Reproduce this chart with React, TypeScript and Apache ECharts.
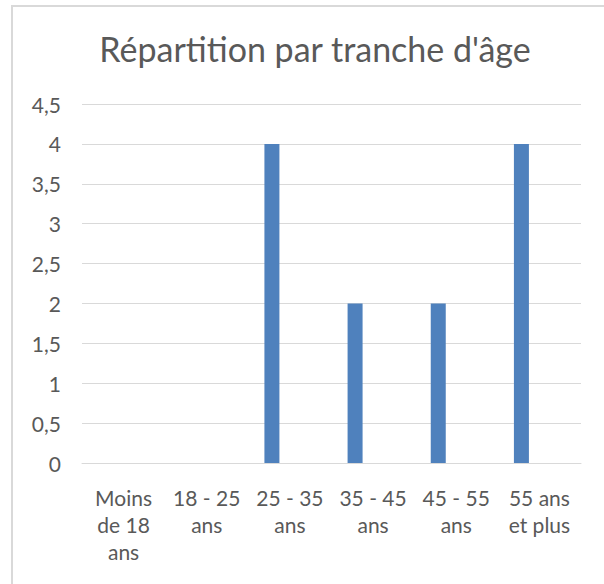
import React, { useEffect, useRef } from "react";
import * as echarts from "echarts";

const titleText = "Répartition par tranche d'âge";
const categories = [
  "Moins\nde 18\nans",
  "18 - 25\nans",
  "25 - 35\nans",
  "35 - 45\nans",
  "45 - 55\nans",
  "55 ans\net plus",
];
const values = [0, 0, 4, 2, 2, 4];
const yMin = 0;
const yMax = 4.5;
const yInterval = 0.5;

export default function App() {
  const ref = useRef<HTMLDivElement>(null);
  useEffect(() => {
    document.body.style.margin = "0";
    if (!ref.current) return;
    const chart = echarts.init(ref.current, undefined, { renderer: "svg" });
    chart.setOption({
      animation: false,
      backgroundColor: "#ffffff",
      textStyle: { fontFamily: "Lato" },
      graphic: [
        {
          type: "rect",
          shape: { x: 12, y: 6, width: 620, height: 620 },
          style: { fill: "none", stroke: "#d9d9d9", lineWidth: 2 },
          silent: true,
        },
      ],
      title: {
        text: titleText,
        left: 310,
        textAlign: "center",
        top: 26,
        textStyle: {
          fontFamily: "Lato",
          fontSize: 34,
          fontWeight: "normal",
          color: "#595959",
        },
      },
      grid: { left: 82, right: 23, top: 104, bottom: 121, containLabel: false },
      xAxis: {
        type: "category",
        data: categories,
        axisTick: { show: false },
        axisLine: { show: true, lineStyle: { color: "#d9d9d9", width: 1 } },
        axisLabel: {
          interval: 0,
          color: "#595959",
          fontSize: 21,
          fontFamily: "Lato",
          lineHeight: 27,
          margin: 21,
          align: "center",
        },
      },
      yAxis: {
        type: "value",
        min: yMin,
        max: yMax,
        interval: yInterval,
        axisLine: { show: false },
        axisTick: { show: false },
        splitLine: { lineStyle: { color: "#d9d9d9", width: 1 } },
        axisLabel: {
          color: "#595959",
          fontSize: 21,
          fontFamily: "Lato",
          margin: 21,
          formatter: (v: number) => String(v).replace(".", ","),
        },
      },
      series: [
        {
          type: "bar",
          data: values,
          barWidth: 15,
          barGap: "140%",
          itemStyle: { color: "#4f81bd" },
        },
        {
          type: "bar",
          data: values.map(() => null),
          barWidth: 15,
          itemStyle: { color: "#c0504d" },
        },
      ],
    });
    return () => chart.dispose();
  }, []);
  return <div ref={ref} style={{ width: 604, height: 584 }} />;
}
